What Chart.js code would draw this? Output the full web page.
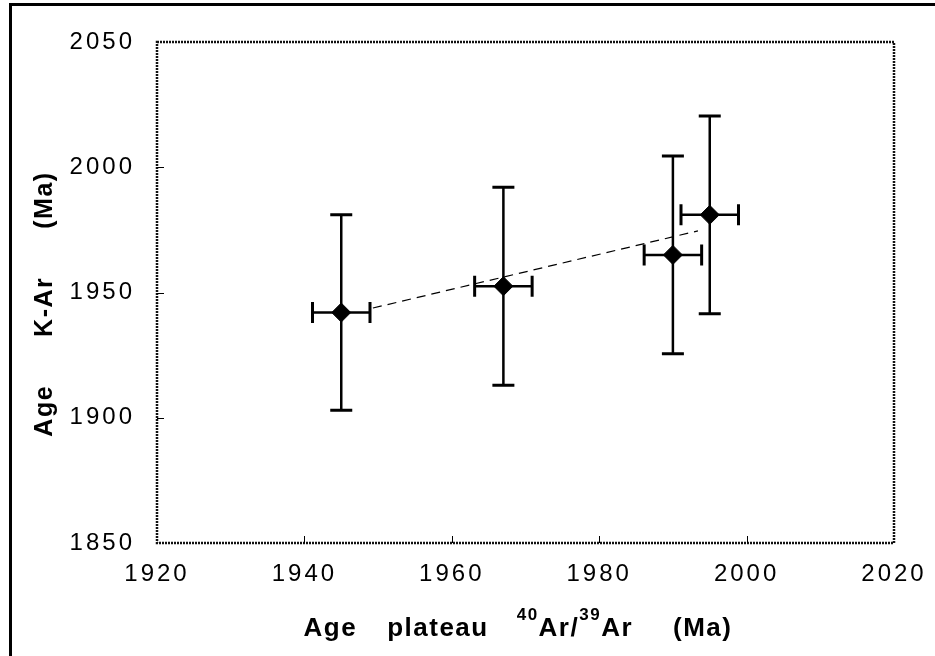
<!DOCTYPE html>
<html>
<head>
<meta charset="utf-8">
<script src="https://cdn.jsdelivr.net/npm/chart.js@4.4.0/dist/chart.umd.min.js"></script>
<style>
  html, body { margin: 0; padding: 0; background: #fff; }
  canvas { display: block; }
</style>
</head>
<body>
<canvas id="ageChart" width="935" height="656"></canvas>
<script>
// Age plateau 40Ar/39Ar (x) vs Age K-Ar (y), in Ma, with errors
const plateauAge = [1945, 1967, 1990, 1995];
const plateauErr = [3.9, 3.9, 3.9, 3.9];
const kArAge = [1942, 1952.5, 1965, 1981];
const kArErr = [39, 39.5, 39.5, 39.5];

// dashed trend line at both ends
const trendX = [1949.3, 1993.4];
const trendY = [1943.8, 1974.6];

const xTicks = [1920, 1940, 1960, 1980, 2000, 2020];
const yTicks = [1850, 1900, 1950, 2000, 2050];

const FONT = '"Liberation Sans", Arial, Helvetica, sans-serif';

// draws a row of text pieces, superscripts raised and smaller
const drawPieces = (ctx, pieces, cx, baseY, size) => {
    const supSize = Math.round(size * 0.66);
    const widthOf = p => {
        if (p.gap) return p.gap;
        ctx.font = `bold ${p.sup ? supSize : size}px ${FONT}`;
        return ctx.measureText(p.t).width;
    };
    const total = pieces.reduce((s, p) => s + widthOf(p), 0);
    let x = cx - total / 2;
    ctx.textAlign = "left";
    ctx.textBaseline = "alphabetic";
    pieces.forEach(p => {
        const w = widthOf(p);
        if (!p.gap) ctx.fillText(p.t, x, p.sup ? baseY - Math.round(size * 0.6) : baseY);
        x += w;
    });
};

const figureDecor = {
    id: "figureDecor",
    beforeDraw(chart) {
        const ctx = chart.ctx;
        ctx.save();
        ctx.fillStyle = "#000";
        ctx.fillRect(9, 3, 926, 3);   // outer frame, top
        ctx.fillRect(9, 3, 3, 653);   // outer frame, left
        ctx.restore();
        ctx.letterSpacing = "3px";    // wide tick labels like the scan
    },
    beforeDatasetsDraw(chart) {
        const ctx = chart.ctx;
        ctx.letterSpacing = "0px";
        const a = chart.chartArea;
        const xs = chart.scales.x, ys = chart.scales.y;
        ctx.save();

        // plot frame
        ctx.strokeStyle = "#111";
        ctx.lineWidth = 2.5;
        ctx.setLineDash([2, 1]);
        ctx.strokeRect(a.left, a.top, a.right - a.left, a.bottom - a.top);
        ctx.setLineDash([]);

        // inward tick marks
        ctx.strokeStyle = "#000";
        ctx.lineWidth = 1;
        ctx.beginPath();
        xTicks.slice(1, -1).forEach(v => {
            const px = Math.round(xs.getPixelForValue(v)) + 0.5;
            ctx.moveTo(px, a.bottom);
            ctx.lineTo(px, a.bottom - 7);
        });
        yTicks.slice(1, -1).forEach(v => {
            const py = Math.round(ys.getPixelForValue(v)) + 0.5;
            ctx.moveTo(a.left, py);
            ctx.lineTo(a.left + 7, py);
        });
        ctx.stroke();

        // error bars
        ctx.strokeStyle = "#000";
        plateauAge.forEach((xv, i) => {
            const px = xs.getPixelForValue(xv);
            const py = ys.getPixelForValue(kArAge[i]);
            const top = ys.getPixelForValue(kArAge[i] + kArErr[i]);
            const bot = ys.getPixelForValue(kArAge[i] - kArErr[i]);
            const lft = xs.getPixelForValue(xv - plateauErr[i]);
            const rgt = xs.getPixelForValue(xv + plateauErr[i]);

            ctx.lineWidth = 2.5;
            ctx.beginPath();
            ctx.moveTo(px, top); ctx.lineTo(px, bot);
            ctx.moveTo(lft, py); ctx.lineTo(rgt, py);
            ctx.stroke();

            ctx.lineWidth = 3;
            ctx.beginPath();
            ctx.moveTo(px - 11, top); ctx.lineTo(px + 11, top);
            ctx.moveTo(px - 11, bot); ctx.lineTo(px + 11, bot);
            ctx.moveTo(lft, py - 10.5); ctx.lineTo(lft, py + 10.5);
            ctx.moveTo(rgt, py - 10.5); ctx.lineTo(rgt, py + 10.5);
            ctx.stroke();
        });
        ctx.restore();
    },
    afterDraw(chart) {
        const ctx = chart.ctx;
        ctx.save();
        ctx.letterSpacing = "1.5px";
        ctx.fillStyle = "#000";

        // x axis title
        drawPieces(ctx, [
            { t: "Age" }, { gap: 30 }, { t: "plateau" }, { gap: 28 },
            { t: "40", sup: true }, { t: "Ar/" }, { t: "39", sup: true }, { t: "Ar" },
            { gap: 40 }, { t: "(Ma)" }
        ], 518, 636, 26);

        // y axis title
        ctx.translate(52, 304);
        ctx.rotate(-Math.PI / 2);
        drawPieces(ctx, [
            { t: "Age" }, { gap: 48 }, { t: "K-Ar" }, { gap: 48 }, { t: "(Ma)" }
        ], 0, 0, 25);
        ctx.restore();
    }
};

const ctx = document.getElementById("ageChart").getContext("2d");

new Chart(ctx, {
    type: "scatter",
    data: {
        datasets: [
            {
                label: "trend",
                type: "line",
                data: trendX.map((x, i) => ({ x, y: trendY[i] })),
                borderColor: "#000",
                borderWidth: 1.2,
                borderDash: [9, 6],
                pointRadius: 0,
                fill: false
            },
            {
                label: "samples",
                data: plateauAge.map((x, i) => ({ x, y: kArAge[i] })),
                pointStyle: "rectRot",
                pointRadius: 9.5,
                pointHoverRadius: 9.5,
                backgroundColor: "#000",
                borderColor: "#000",
                borderWidth: 1
            }
        ]
    },
    options: {
        responsive: false,
        animation: false,
        devicePixelRatio: 1,
        layout: { padding: { top: 42, right: 41, left: 0, bottom: 0 } },
        plugins: {
            legend: { display: false },
            tooltip: { enabled: false }
        },
        scales: {
            x: {
                type: "linear",
                min: 1920,
                max: 2020,
                afterBuildTicks: s => { s.ticks = xTicks.map(value => ({ value })); },
                afterFit: s => { s.height = 113; },
                grid: { display: false },
                border: { display: false },
                ticks: {
                    padding: 9,
                    color: "#000",
                    font: { family: FONT, size: 24 },
                    callback: v => String(v)
                }
            },
            y: {
                type: "linear",
                min: 1850,
                max: 2050,
                afterBuildTicks: s => { s.ticks = yTicks.map(value => ({ value })); },
                afterFit: s => { s.width = 157; },
                grid: { display: false },
                border: { display: false },
                ticks: {
                    padding: 14,
                    color: "#000",
                    font: { family: FONT, size: 24 },
                    callback: v => String(v)
                }
            }
        }
    },
    plugins: [figureDecor]
});
</script>
</body>
</html>
